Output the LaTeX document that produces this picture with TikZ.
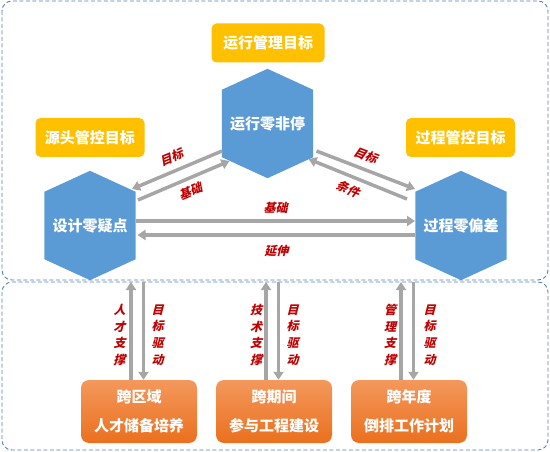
\documentclass[tikz,border=0pt]{standalone}
\usepackage{fontspec}
\setmainfont{Noto Sans CJK SC}
\newfontfamily\lblfont[FakeSlant=0.25]{Noto Sans CJK SC}
\usepackage{tikz}
\usetikzlibrary{arrows.meta, positioning, calc, backgrounds}
\definecolor{hexblue}{RGB}{91, 155, 213}
\definecolor{goalyellow}{RGB}{255, 192, 0}
\definecolor{tasktop}{RGB}{244, 152, 92}
\definecolor{taskbottom}{RGB}{234, 112, 30}
\definecolor{arrowgray}{RGB}{166, 166, 166}
\definecolor{labelred}{RGB}{192, 0, 0}
\definecolor{frameblue}{RGB}{84, 130, 186}

\begin{document}
\begin{tikzpicture}[
    x=1pt, y=-1pt,
    frame/.style={draw=frameblue, line width=0.9pt, dash pattern=on 4pt off 2.5pt, rounded corners=10pt},
    goalbox/.style={rectangle, rounded corners=5pt, fill=goalyellow, text=white, minimum width=109pt, minimum height=39pt, font=\fontsize{15}{15}\selectfont\bfseries},
    hexnode/.style={rectangle, minimum width=91pt, minimum height=109pt, inner sep=0pt, text=white, font=\fontsize{15}{15}\selectfont\bfseries},
    taskbox/.style={rectangle, rounded corners=8pt, top color=tasktop, bottom color=taskbottom, text=white, minimum width=116pt, minimum height=63pt, align=center, font=\fontsize{15}{28.7}\selectfont\bfseries},
    link/.style={line width=3.5pt, draw=arrowgray, -{Triangle[length=8pt,width=10pt]}},
    lbl/.style={text=labelred, inner sep=1pt, font=\lblfont\bfseries\fontsize{12}{12}\selectfont},
    vlbl/.style={lbl, align=center, font=\lblfont\bfseries\fontsize{12}{16.7}\selectfont}
]
\useasboundingbox (0,0) rectangle (550,452);

% Frames
\draw[frame] (2,1) rectangle (548,280);
\draw[frame] (2,282) rectangle (548,450);
\coordinate (sep) at (0,282);

% Goals
\node[goalbox, minimum width=113pt] (yxgoal) at (268,43) {运行管理目标};
\node[goalbox] (sjgoal) at (90,137.5) {源头管控目标};
\node[goalbox] (gcgoal) at (460.5,137.5) {过程管控目标};

% Hexagons
\node[hexnode] (yx) at (267.5,123.5) {运行零非停};
\node[hexnode] (sj) at (90,225.5) {设计零疑点};
\node[hexnode] (gc) at (461,225.5) {过程零偏差};
\begin{scope}[on background layer]
    \foreach \n in {yx,sj,gc}
        \fill[hexblue] (\n.north) -- ($(\n.north east)+(0,21)$) -- ($(\n.south east)+(0,-21)$)
            -- (\n.south) -- ($(\n.south west)+(0,-21)$) -- ($(\n.north west)+(0,21)$) -- cycle;
\end{scope}

% Links between hexagons
\draw[link] ($(yx)+(-45.5,27.5)$) -- ($(sj)+(42,-36.5)$) node[lbl, midway, sloped, above=5pt] (mb1) {目标};
\draw[link] ($(sj)+(48,-25.5)$) -- ($(yx)+(-38,37.5)$) node[lbl, pos=0.52, sloped, below=4.5pt] (jc1) {基础};
\draw[link] ($(yx)+(49,27.5)$) -- ($(gc)+(-46,-36.5)$) node[lbl, pos=0.45, sloped, above=5pt] (mb2) {目标};
\draw[link] ($(gc)+(-54,-26.5)$) -- ($(yx)+(41,35.5)$) node[lbl, pos=0.55, sloped, below=4.5pt] (tj) {条件};
\draw[link] ($(sj)+(46,-4.5)$) -- ($(gc)+(-46,-4.5)$) node[lbl, midway, above=4.5pt] (jc2) {基础};
\draw[link] ($(gc)+(-46,9.5)$) -- ($(sj)+(47.5,9.5)$) node[lbl, midway, below=8pt] (ys) {延伸};

% Tasks
\node[taskbox] (kqy) at (139,411.5) {跨区域\\人才储备培养};
\node[taskbox] (kqj) at (274,411.5) {跨期间\\参与工程建设};
\node[taskbox] (knd) at (409,411.5) {跨年度\\倒排工作计划};

% Support and drive
\draw[link] ([xshift=-8pt]kqy.north) -- ([xshift=-8pt]kqy.north |- sep);
\draw[link] ([xshift=4.5pt]kqy.north |- sep) -- ([xshift=4.5pt]kqy.north);
\draw[link] ([xshift=-8pt]kqj.north) -- ([xshift=-8pt]kqj.north |- sep);
\draw[link] ([xshift=4.5pt]kqj.north |- sep) -- ([xshift=4.5pt]kqj.north);
\draw[link] ([xshift=-8pt]knd.north) -- ([xshift=-8pt]knd.north |- sep);
\draw[link] ([xshift=4.5pt]knd.north |- sep) -- ([xshift=4.5pt]knd.north);

\node[vlbl] (zc1) at (119.5,335) {人\\才\\支\\撑};
\node[vlbl] (qd1) at (157.5,335) {目\\标\\驱\\动};
\node[vlbl] (zc2) at (256,335) {技\\术\\支\\撑};
\node[vlbl] (qd2) at (292.5,335) {目\\标\\驱\\动};
\node[vlbl] (zc3) at (390,335) {管\\理\\支\\撑};
\node[vlbl] (qd3) at (429.5,335) {目\\标\\驱\\动};
\end{tikzpicture}
\end{document}
